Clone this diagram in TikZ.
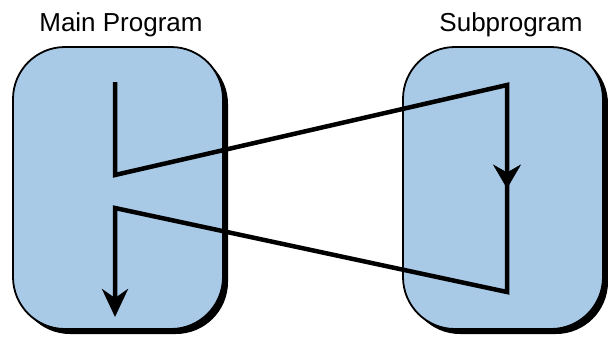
\documentclass[tikz,border=0pt]{standalone}
\usepackage{fontspec}
\setmainfont{Liberation Sans}
\usepackage{tikz}
\usetikzlibrary{arrows.meta,decorations.markings,shadows}
\definecolor{pgFill}{HTML}{A9CAE7}
\definecolor{pgInk}{HTML}{000000}
\tikzset{
  pg diagram/.style={font=\fontsize{26}{30}\selectfont, text=pgInk},
  pg box/.style={draw=pgInk, fill=pgFill, line width=1.8pt,
    rounded corners=52pt, inner sep=0pt,
    drop shadow={shadow xshift=5pt, shadow yshift=-5pt, opacity=1, fill=pgInk}},
  pg title/.style={anchor=base},
  pg flow/.style={draw=pgInk, line width=4.5pt, line join=miter},
  pg end/.style={pg flow, -{Stealth[length=28pt, width=26pt, inset=9pt]}},
  pg mid/.style={postaction={decorate}, decoration={markings,
    mark=at position 0.5 with {\arrow{Stealth[length=24pt, width=28pt, inset=8pt]}}}}
}
\begin{document}
\begin{tikzpicture}[pg diagram, x=1pt, y=-1pt]
\useasboundingbox (0,0) rectangle (608,340);
\node[pg box, minimum width=210pt, minimum height=282pt] (main) at (118,188) {};
\node[pg box, minimum width=200pt, minimum height=282pt] (sub) at (503,188) {};
\node[pg title] (main title) at (121,31) {Main Program};
\node[pg title] (sub title) at (511,31) {Subprogram};
% flow of control
\coordinate (main in) at (115,82);
\coordinate (main call) at (115,175);
\coordinate (sub entry) at (507,85);
\coordinate (sub exit) at (507,292);
\coordinate (main return) at (115,208);
\coordinate (main out) at (115,317);
\draw[pg end] (main in) -- (main call) -- (sub entry) -- (sub exit)
  -- (main return) -- (main out);
\path[pg mid] (sub entry) -- (sub exit);
\end{tikzpicture}
\end{document}
